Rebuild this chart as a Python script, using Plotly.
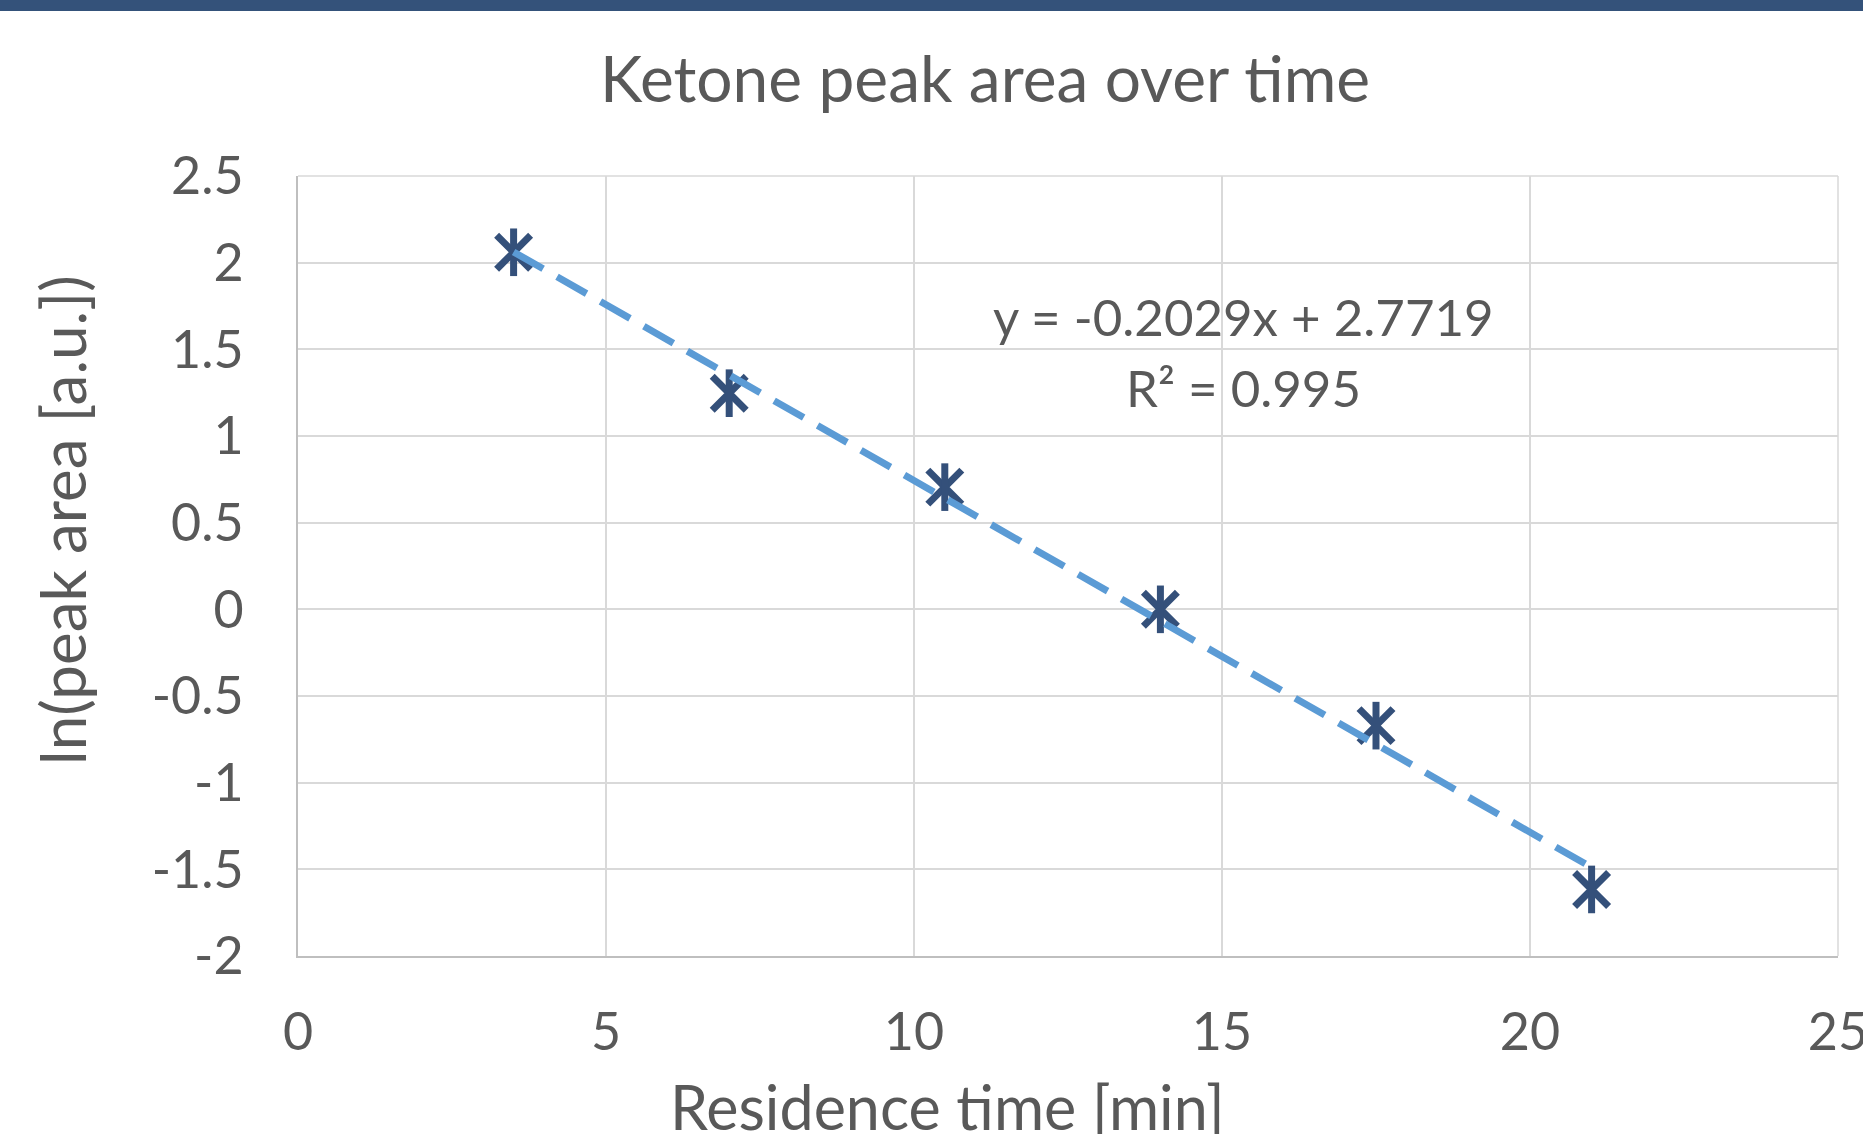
import plotly.graph_objects as go

# Data
residence_time = [3.5, 7, 10.5, 14, 17.5, 21]
ln_peak_area = [2.06, 1.247, 0.705, 0.0, -0.671, -1.616]
slope = -0.2029
intercept = 2.7719
r_squared = 0.995
x_ticks = [0, 5, 10, 15, 20, 25]
y_ticks = [-2, -1.5, -1, -0.5, 0, 0.5, 1, 1.5, 2, 2.5]

W, H = 1863, 1134
L, R, T, B = 298, 25, 176, 178
PW, PH = W - L - R, H - T - B

def px_x(p):
    return (p - L) / PW

def px_y(p):
    return (H - B - p) / PH

FONT = "Lato"
TXT = "#595959"
MARK = "#34507A"
TREND = "#5B9BD5"

trend_x = [residence_time[0], residence_time[-1]]
trend_y = [slope * v + intercept for v in trend_x]

fig = go.Figure()
fig.add_trace(go.Scatter(
    x=residence_time, y=ln_peak_area, mode="markers",
    marker=dict(symbol="x-thin-open", size=34, line=dict(color=MARK, width=7), color=MARK),
    showlegend=False, hoverinfo="skip"))
fig.add_trace(go.Scatter(
    x=residence_time, y=ln_peak_area, mode="markers",
    marker=dict(symbol="line-ns-open", size=34, line=dict(color=MARK, width=7), color=MARK),
    showlegend=False, hoverinfo="skip"))
fig.add_trace(go.Scatter(
    x=trend_x, y=trend_y, mode="lines",
    line=dict(color=TREND, width=7, dash="34px,16px"),
    showlegend=False, hoverinfo="skip"))

fig.update_layout(
    width=W, height=H, autosize=False,
    margin=dict(l=L, r=R, t=T, b=B, autoexpand=False),
    paper_bgcolor="white", plot_bgcolor="white",
    font=dict(family=FONT, color=TXT),
    xaxis=dict(range=[0, 25], tickvals=x_ticks, ticktext=[str(v) for v in x_ticks],
               automargin=False,
               showgrid=True, gridcolor="#D9D9D9", gridwidth=1.5,
               showline=True, linecolor="#BFBFBF", linewidth=2, zeroline=False,
               tickfont=dict(size=52, color=TXT, family=FONT),
               ticks="outside", ticklen=30, tickcolor="rgba(0,0,0,0)",
               ticklabeloverflow="allow"),
    yaxis=dict(range=[-2, 2.5], tickvals=y_ticks, ticktext=[f"{v:g}" for v in y_ticks],
               automargin=False,
               showgrid=True, gridcolor="#D9D9D9", gridwidth=1.5,
               showline=True, linecolor="#BFBFBF", linewidth=2, zeroline=False,
               tickfont=dict(size=52, color=TXT, family=FONT), ticks="",
               ticklabelstandoff=42, ticklabeloverflow="allow"),
    shapes=[
        dict(type="rect", xref="paper", yref="paper",
             x0=px_x(0), x1=px_x(W), y0=px_y(11), y1=px_y(0),
             fillcolor="#34527A", line=dict(width=0), layer="above"),
        dict(type="line", xref="paper", yref="paper",
             x0=1, x1=1, y0=0, y1=1, line=dict(color="#D9D9D9", width=1.5)),
        dict(type="line", xref="paper", yref="paper",
             x0=0, x1=1, y0=1, y1=1, line=dict(color="#D9D9D9", width=1.5)),
    ],
    annotations=[
        dict(text="Ketone peak area over time", xref="paper", yref="paper",
             x=px_x(985), y=px_y(77), xanchor="center", yanchor="middle",
             showarrow=False, font=dict(size=64, color=TXT, family=FONT)),
        dict(text="ln(peak area [a.u.])", xref="paper", yref="paper",
             x=px_x(62), y=px_y(520), xanchor="center", yanchor="middle", textangle=-90,
             showarrow=False, font=dict(size=62, color=TXT, family=FONT)),
        dict(text="Residence time [min]", xref="paper", yref="paper",
             x=px_x(947), y=px_y(1106), xanchor="center", yanchor="middle",
             showarrow=False, font=dict(size=61, color=TXT, family=FONT)),
        dict(text=f"y = {slope:.4f}x + {intercept:.4f}", xref="paper", yref="paper",
             x=px_x(1243), y=px_y(316), xanchor="center", yanchor="middle",
             showarrow=False, font=dict(size=51, color=TXT, family=FONT)),
        dict(text=f"R² = {r_squared:g}", xref="paper", yref="paper",
             x=px_x(1243), y=px_y(387), xanchor="center", yanchor="middle",
             showarrow=False, font=dict(size=51, color=TXT, family=FONT)),
    ],
)

post = (
    "document.documentElement.style.overflow='hidden';"
    "document.body.style.margin='0';document.body.style.overflow='hidden';"
)
fig.write_html("out.html",
               config={"displayModeBar": False, "responsive": False},
               post_script=post)
